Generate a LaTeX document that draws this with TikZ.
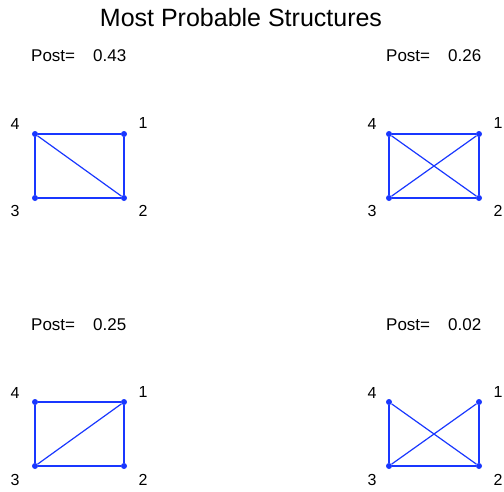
\documentclass[tikz,border=0pt]{standalone}
\usepackage{fontspec}
\setmainfont{Liberation Sans}
\begin{document}
\begin{tikzpicture}[x=1pt,y=-1pt,
  edge/.style={draw={rgb,255:red,25;green,55;blue,255},line width=1.2pt},
  dot/.style={circle,fill={rgb,255:red,25;green,55;blue,255},inner sep=0pt,minimum size=6pt},
  lab/.style={font=\fontsize{16}{16}\selectfont,inner sep=0pt},
  post/.style={font=\fontsize{17}{17}\selectfont,inner sep=0pt,anchor=west},
  ttl/.style={font=\fontsize{25}{26}\selectfont,inner sep=0pt}]
\useasboundingbox (0,0) rectangle (504,491);
\node[ttl] (title) at (241,18) {Most Probable Structures};
% graph 1
\node[post] (p1) at (31,56) {Post=\hspace{18pt}0.43};
\node[dot] (a4) at (35,134) {}; \node[dot] (a1) at (124,134) {};
\node[dot] (a3) at (35,198) {}; \node[dot] (a2) at (124,198) {};
\node[lab] (la4) at (15,124) {4}; \node[lab] (la1) at (143,123) {1};
\node[lab] (la3) at (15,211) {3}; \node[lab] (la2) at (143,211) {2};
\draw[edge] (a4) -- (a1); \draw[edge] (a1) -- (a2); \draw[edge] (a2) -- (a3);
\draw[edge] (a3) -- (a4); \draw[edge] (a4) -- (a2);
% graph 2
\node[post] (p2) at (386,56) {Post=\hspace{18pt}0.26};
\node[dot] (b4) at (389,134) {}; \node[dot] (b1) at (479,134) {};
\node[dot] (b3) at (389,198) {}; \node[dot] (b2) at (479,198) {};
\node[lab] (lb4) at (372,124) {4}; \node[lab] (lb1) at (498,123) {1};
\node[lab] (lb3) at (372,211) {3}; \node[lab] (lb2) at (498,211) {2};
\draw[edge] (b4) -- (b1); \draw[edge] (b1) -- (b2); \draw[edge] (b2) -- (b3);
\draw[edge] (b3) -- (b4); \draw[edge] (b4) -- (b2); \draw[edge] (b1) -- (b3);
% graph 3
\node[post] (p3) at (31,325) {Post=\hspace{18pt}0.25};
\node[dot] (c4) at (35,402) {}; \node[dot] (c1) at (124,402) {};
\node[dot] (c3) at (35,466) {}; \node[dot] (c2) at (124,466) {};
\node[lab] (lc4) at (15,393) {4}; \node[lab] (lc1) at (143,392) {1};
\node[lab] (lc3) at (15,480) {3}; \node[lab] (lc2) at (143,480) {2};
\draw[edge] (c4) -- (c1); \draw[edge] (c1) -- (c2); \draw[edge] (c2) -- (c3);
\draw[edge] (c3) -- (c4); \draw[edge] (c1) -- (c3);
% graph 4
\node[post] (p4) at (386,325) {Post=\hspace{18pt}0.02};
\node[dot] (d4) at (389,402) {}; \node[dot] (d1) at (479,402) {};
\node[dot] (d3) at (389,466) {}; \node[dot] (d2) at (479,466) {};
\node[lab] (ld4) at (372,393) {4}; \node[lab] (ld1) at (498,392) {1};
\node[lab] (ld3) at (372,480) {3}; \node[lab] (ld2) at (498,480) {2};
\draw[edge] (d1) -- (d2); \draw[edge] (d2) -- (d3);
\draw[edge] (d3) -- (d4); \draw[edge] (d4) -- (d2); \draw[edge] (d1) -- (d3);
\end{tikzpicture}
\end{document}
